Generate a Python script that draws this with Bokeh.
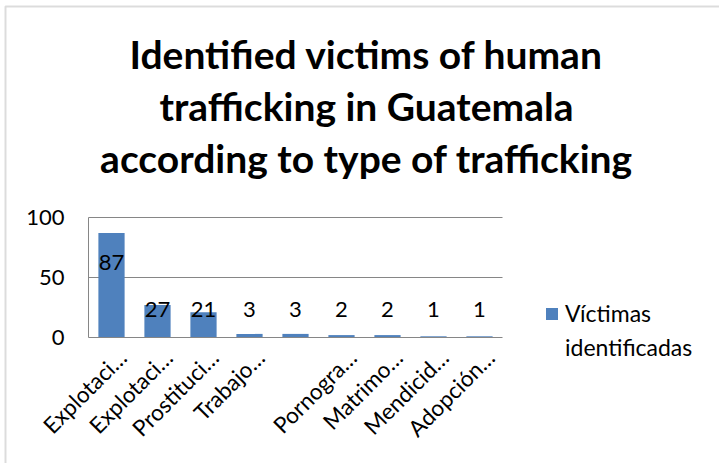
import math
from bokeh.plotting import figure
from bokeh.models import (ColumnDataSource, FixedTicker, Range1d, Legend, LegendItem,
                          Label, BoxAnnotation)
from bokeh.embed import file_html
from bokeh.resources import INLINE
from bokeh.core.properties import value

# ---- data ----
categories = ["Explotaci…", "Explotaci…", "Prostituci…", "Trabajo…", "",
              "Pornogra…", "Matrimo…", "Mendicid…", "Adopción…"]
victims = [87, 27, 21, 3, 3, 2, 2, 1, 1]
y_ticks = [0, 50, 100]
title_lines = ["Identified victims of human",
               "trafficking in Guatemala",
               "according to type of trafficking"]
legend_lines = ["Víctimas", "identificadas"]

FONT = "Lato"
BAR = "#4F81BD"
GRID = "#868686"
BORDER = "#8a8a8a"

n = len(victims)
xs = [i + 0.5 for i in range(n)]
label_y = [max(23, v - 24.5) for v in victims]
src = ColumnDataSource(dict(x=xs, v=victims, ly=label_y, t=[str(v) for v in victims]))

# ---- geometry of the plotting area (pixels) ----
W, H = 719, 463
X0, PX_X = 88, 46.0      # data x=0 at 88px, 46px per category
Y0, PX_Y = 337, 1.2      # data y=0 at 337px, 1.2px per unit

p = figure(width=W, height=H, output_backend="svg", toolbar_location=None,
           x_range=Range1d(-X0 / PX_X, (W - X0) / PX_X),
           y_range=Range1d(-(H - Y0) / PX_Y, Y0 / PX_Y),
           min_border=0)
p.outline_line_color = None
p.xgrid.visible = False
p.ygrid.visible = False

# gridlines over the category span
grid_y = [t for t in y_ticks if t > 0]
p.segment(x0=[0] * len(grid_y), x1=[n] * len(grid_y), y0=grid_y, y1=grid_y,
          line_color=GRID, line_width=1)

bars = p.vbar(x="x", top="v", width=0.57, source=src, fill_color=BAR, line_color=None)
dummy = p.vbar(x=[], top=[], width=0.5, fill_alpha=0, line_alpha=0)
p.text(x="x", y="ly", text="t", source=src, text_align="center", text_baseline="middle",
       text_font=value(FONT), text_font_size="22px", text_color="black")

# y axis
ya = p.yaxis[0]
ya.fixed_location = 0
ya.bounds = (0, max(y_ticks))
ya.ticker = FixedTicker(ticks=y_ticks)
ya.axis_line_color = GRID
ya.major_tick_line_color = None
ya.minor_tick_line_color = None
ya.major_label_standoff = 18
ya.major_label_text_font = FONT
ya.major_label_text_font_size = "22px"
ya.major_label_text_color = "black"

# x axis
offset = 0.24
xa = p.xaxis[0]
xa.fixed_location = 0
xa.bounds = (0, n)
xa.ticker = FixedTicker(ticks=[x + offset for x in xs])
xa.major_label_overrides = {x + offset: c for x, c in zip(xs, categories)}
xa.major_label_orientation = math.pi / 4
xa.axis_line_color = GRID
xa.major_tick_line_color = None
xa.minor_tick_line_color = None
xa.major_label_standoff = 10
xa.major_label_text_font = FONT
xa.major_label_text_font_size = "22.5px"
xa.major_label_text_color = "black"

# title (screen units measured from the bottom-left corner)
for i, line in enumerate(title_lines):
    p.add_layout(Label(x=366, y=H - 53 - 52 * i, x_units="screen", y_units="screen",
                       text=line, text_align="center", text_baseline="alphabetic",
                       text_font=FONT, text_font_style="bold", text_font_size="39px",
                       text_color="black"))

legend = Legend(items=[LegendItem(label=legend_lines[0], renderers=[bars]),
                       LegendItem(label=legend_lines[1], renderers=[dummy])],
                location=(544, 99), border_line_color=None, background_fill_alpha=0,
                padding=0, margin=0, spacing=0, glyph_width=15, glyph_height=15,
                label_height=34, label_standoff=6, label_text_font=FONT,
                label_text_font_size="23px", label_text_color="black")
p.add_layout(legend, "center")

# chart-area border (top and left edges visible)
p.add_layout(BoxAnnotation(left=5, right=W + 20, top=H - 6, bottom=-20,
                           left_units="screen", right_units="screen",
                           top_units="screen", bottom_units="screen",
                           fill_alpha=0, line_color=BORDER, line_width=2))

open("out.html", "w").write(file_html(p, INLINE))
